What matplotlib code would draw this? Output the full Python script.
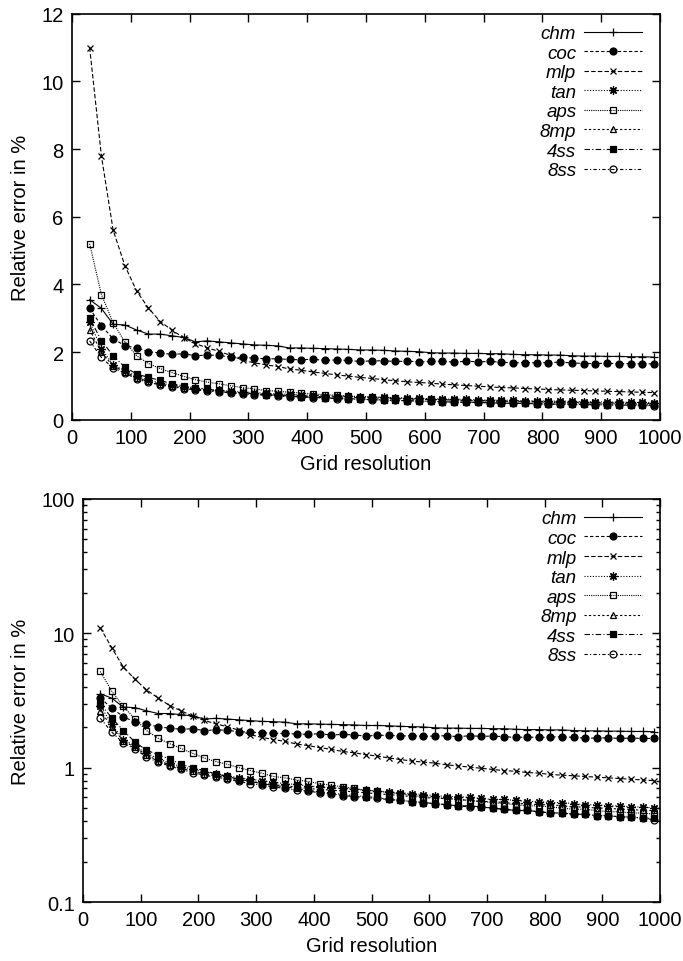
import matplotlib
matplotlib.use("Agg")
import matplotlib.pyplot as plt
from matplotlib.ticker import FixedLocator, LogLocator, NullFormatter, FixedFormatter

plt.rcParams['font.family'] = ['Liberation Sans', 'DejaVu Sans']

resolution = list(range(30, 1000, 20))

chm = [3.55, 3.29, 2.82, 2.80, 2.65, 2.53, 2.53, 2.48, 2.43, 2.30, 2.33, 2.30, 2.27, 2.24, 2.21, 2.20, 2.18,
       2.12, 2.12, 2.11, 2.10, 2.09, 2.08, 2.06, 2.06, 2.05, 2.03, 2.02, 2.01, 1.98, 1.97, 1.97, 1.96, 1.96,
       1.95, 1.95, 1.93, 1.92, 1.92, 1.91, 1.91, 1.89, 1.88, 1.88, 1.87, 1.87, 1.86, 1.86, 1.85]
coc = [3.29, 2.78, 2.39, 2.19, 2.12, 2.01, 1.97, 1.93, 1.95, 1.89, 1.91, 1.90, 1.85, 1.84, 1.82, 1.80, 1.80,
       1.78, 1.77, 1.79, 1.75, 1.77, 1.75, 1.72, 1.74, 1.74, 1.72, 1.73, 1.71, 1.72, 1.73, 1.70, 1.73, 1.71,
       1.72, 1.70, 1.68, 1.69, 1.68, 1.69, 1.70, 1.68, 1.66, 1.66, 1.67, 1.65, 1.66, 1.65, 1.65]
mlp = [11.0, 7.8, 5.6, 4.55, 3.8, 3.3, 2.9, 2.65, 2.42, 2.25, 2.12, 2.02, 1.90, 1.76, 1.68, 1.62, 1.57,
       1.50, 1.46, 1.41, 1.37, 1.32, 1.29, 1.25, 1.22, 1.18, 1.15, 1.12, 1.10, 1.08, 1.05, 1.03, 1.01, 0.99,
       0.97, 0.95, 0.94, 0.92, 0.91, 0.89, 0.88, 0.87, 0.86, 0.85, 0.84, 0.83, 0.82, 0.81, 0.80]
tan = [2.9, 2.1, 1.62, 1.45, 1.28, 1.17, 1.08, 1.02, 0.97, 0.93, 0.90, 0.87, 0.84, 0.82, 0.80, 0.78, 0.76,
       0.75, 0.73, 0.72, 0.71, 0.70, 0.69, 0.68, 0.67, 0.66, 0.65, 0.64, 0.63, 0.62, 0.61, 0.61, 0.60, 0.59,
       0.58, 0.58, 0.57, 0.56, 0.56, 0.55, 0.55, 0.54, 0.53, 0.53, 0.52, 0.52, 0.51, 0.51, 0.50]
aps = [5.2, 3.7, 2.86, 2.3, 1.89, 1.66, 1.51, 1.39, 1.28, 1.18, 1.11, 1.06, 1.00, 0.95, 0.91, 0.86, 0.84,
       0.81, 0.79, 0.76, 0.74, 0.72, 0.70, 0.68, 0.67, 0.65, 0.64, 0.62, 0.61, 0.60, 0.59, 0.58, 0.57, 0.56,
       0.55, 0.54, 0.53, 0.52, 0.52, 0.51, 0.50, 0.49, 0.49, 0.48, 0.47, 0.47, 0.46, 0.46, 0.45]
mp8 = [2.66, 2.0, 1.58, 1.42, 1.24, 1.13, 1.05, 0.99, 0.94, 0.90, 0.87, 0.84, 0.81, 0.79, 0.77, 0.75, 0.73,
       0.72, 0.70, 0.69, 0.68, 0.67, 0.66, 0.65, 0.64, 0.63, 0.62, 0.61, 0.60, 0.59, 0.59, 0.58, 0.57, 0.56,
       0.56, 0.55, 0.54, 0.54, 0.53, 0.53, 0.52, 0.51, 0.51, 0.50, 0.50, 0.49, 0.49, 0.48, 0.48]
ss4 = [3.0, 2.34, 1.89, 1.55, 1.35, 1.25, 1.16, 1.06, 1.00, 0.95, 0.90, 0.86, 0.82, 0.79, 0.76, 0.74, 0.72,
       0.70, 0.68, 0.66, 0.65, 0.63, 0.62, 0.61, 0.60, 0.58, 0.57, 0.56, 0.55, 0.54, 0.53, 0.52, 0.52, 0.51,
       0.50, 0.49, 0.48, 0.48, 0.47, 0.46, 0.46, 0.45, 0.45, 0.44, 0.44, 0.43, 0.43, 0.42, 0.42]
ss8 = [2.33, 1.84, 1.52, 1.38, 1.20, 1.10, 1.03, 0.97, 0.92, 0.88, 0.85, 0.82, 0.79, 0.76, 0.74, 0.72, 0.70,
       0.68, 0.67, 0.65, 0.64, 0.62, 0.61, 0.60, 0.59, 0.58, 0.57, 0.56, 0.55, 0.54, 0.53, 0.52, 0.51, 0.51,
       0.50, 0.49, 0.48, 0.48, 0.47, 0.46, 0.46, 0.45, 0.45, 0.44, 0.44, 0.43, 0.43, 0.42, 0.41]

names = ["chm", "coc", "mlp", "tan", "aps", "8mp", "4ss", "8ss"]
series = [chm, coc, mlp, tan, aps, mp8, ss4, ss8]

asterisk = (8, 2, 0)
styles = [
    dict(marker="+", linestyle="-", mfc="none", ms=6),
    dict(marker="o", linestyle=(0, (3, 2)), mfc="black", ms=5),
    dict(marker="x", linestyle=(0, (4, 2)), mfc="none", ms=5),
    dict(marker=asterisk, linestyle=(0, (1, 1.5)), mfc="none", ms=6),
    dict(marker="s", linestyle=(0, (1, 1)), mfc="none", ms=5),
    dict(marker="^", linestyle=(0, (2, 2)), mfc="none", ms=4.5),
    dict(marker="s", linestyle=(0, (5, 2, 1, 2)), mfc="black", ms=5),
    dict(marker="o", linestyle=(0, (3, 2, 1, 2)), mfc="none", ms=5),
]

FS = 14.5

fig = plt.figure(figsize=(6.83, 9.62), dpi=100)
ax1 = fig.add_axes([0.1054, 0.5627, 0.861, 0.422])
ax2 = fig.add_axes([0.1215, 0.0613, 0.845, 0.419])

for ax in (ax1, ax2):
    for name, vals, st in zip(names, series, styles):
        ax.plot(resolution, vals, color="black", lw=0.8, mec="black", mew=0.9, label=name, **st)
    ax.set_xlim(0, 1000)
    ax.set_xticks(range(0, 1001, 100))
    ax.set_xlabel("Grid resolution", fontsize=FS, labelpad=5)
    ax.set_ylabel("Relative error in %", fontsize=FS, labelpad=8)
    ax.tick_params(which="both", direction="in", top=True, right=True, labelsize=FS, width=1)
    ax.tick_params(which="major", length=6, pad=6)
    ax.tick_params(which="minor", length=3)
    for sp in ax.spines.values():
        sp.set_linewidth(1.2)
    ax.legend(loc="upper right", bbox_to_anchor=(0.985, 0.995), frameon=False, markerfirst=False,
              numpoints=1, handlelength=3.1, handletextpad=0.4, labelspacing=0.13,
              prop=dict(style="italic", size=13.5), borderaxespad=0.1)

ax1.set_ylim(0, 12)
ax1.set_yticks(range(0, 13, 2))

ax2.set_yscale("log")
ax2.set_ylim(0.1, 100)
ax2.yaxis.set_major_locator(FixedLocator([0.1, 1, 10, 100]))
ax2.yaxis.set_major_formatter(FixedFormatter(["0.1", "1", "10", "100"]))
ax2.yaxis.set_minor_locator(LogLocator(base=10, subs=range(2, 10)))
ax2.yaxis.set_minor_formatter(NullFormatter())

fig.savefig("out.png", dpi=100)
